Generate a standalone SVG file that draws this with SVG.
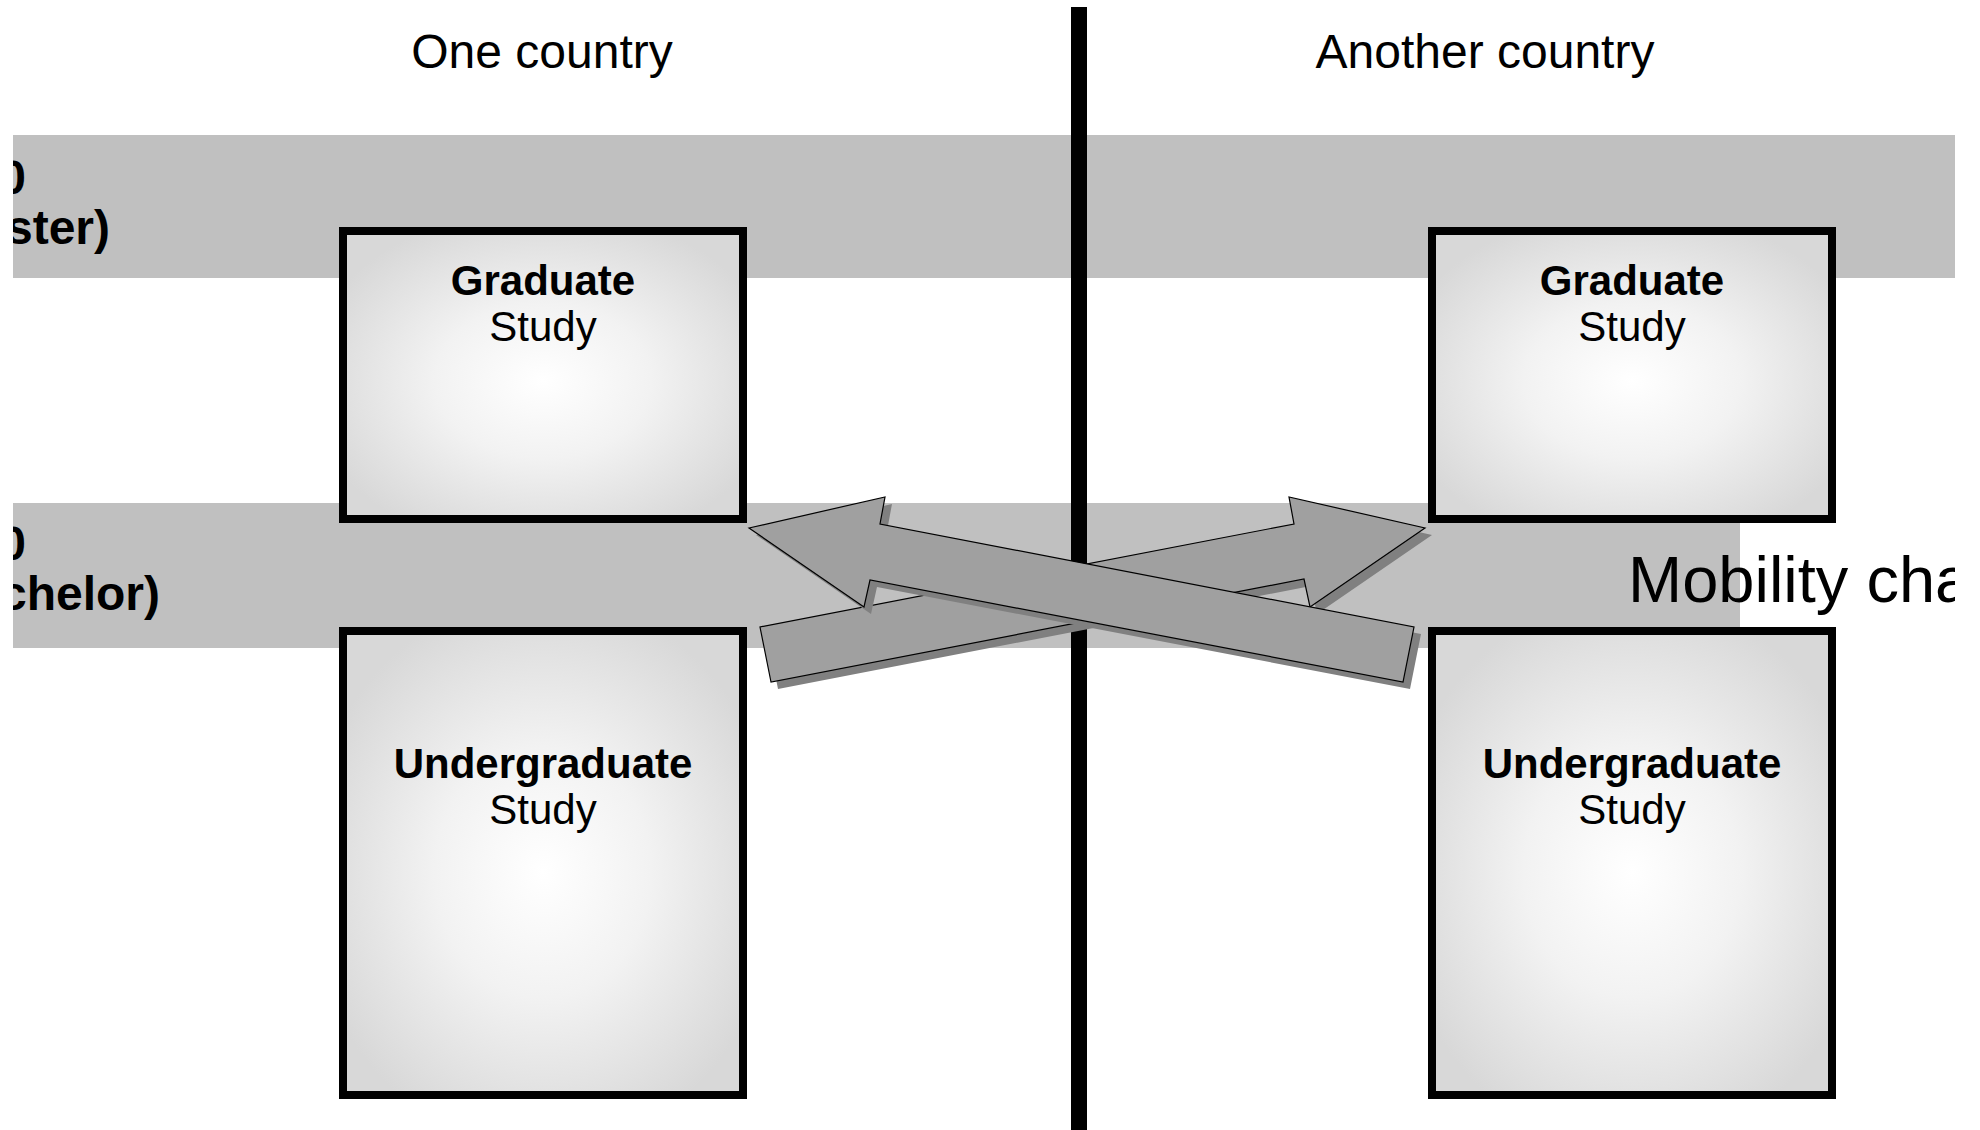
<svg xmlns="http://www.w3.org/2000/svg" width="1980" height="1130" viewBox="0 0 1980 1130">
  <style>
    .band { fill: #c0c0c0; }
    .box { stroke: #000; stroke-width: 8; fill: url(#boxGrad); }
    .t { font-family: "Liberation Sans", Arial, sans-serif; fill: #000; }
    .title { font-size: 48px; text-anchor: middle; }
    .b1 { font-size: 42px; font-weight: bold; text-anchor: middle; }
    .b2 { font-size: 42px; text-anchor: middle; }
    .side { font-size: 48px; font-weight: bold; text-anchor: end; }
    .arrow { fill: #a0a0a0; stroke: #000; stroke-width: 1.2; }
    .shadow { fill: #808080; }
  </style>
  <defs>
    <radialGradient id="boxGrad" cx="50%" cy="52%" r="60%">
      <stop offset="0" stop-color="#ffffff"/>
      <stop offset="0.45" stop-color="#f2f2f2"/>
      <stop offset="1" stop-color="#d8d8d8"/>
    </radialGradient>
    <clipPath id="page">
      <rect x="13" y="0" width="1942" height="1130"/>
    </clipPath>
  </defs>
  <rect x="0" y="0" width="1980" height="1130" fill="#fff"/>
  <g clip-path="url(#page)">
    <g id="bands">
      <rect class="band" x="13" y="135" width="1942" height="143"/>
      <rect class="band" x="13" y="503" width="1727" height="145"/>
    </g>
    <g id="side-labels">
      <text class="t side" x="26" y="194">0</text>
      <text class="t side" x="110" y="244">ster)</text>
      <text class="t side" x="26" y="560">0</text>
      <text class="t side" x="160" y="610">chelor)</text>
    </g>
    <g id="divider">
      <rect x="1071" y="7" width="16" height="1123" fill="#000"/>
    </g>
    <g id="titles">
      <text class="t title" x="542" y="68">One country</text>
      <text class="t title" x="1485" y="68">Another country</text>
    </g>
    <g id="grad-left">
      <rect class="box" x="343" y="231" width="400" height="288"/>
      <text class="t b1" x="543" y="295">Graduate</text>
      <text class="t b2" x="543" y="341">Study</text>
    </g>
    <g id="undergrad-left">
      <rect class="box" x="343" y="631" width="400" height="464"/>
      <text class="t b1" x="543" y="778">Undergraduate</text>
      <text class="t b2" x="543" y="824">Study</text>
    </g>
    <g id="grad-right">
      <rect class="box" x="1432" y="231" width="400" height="288"/>
      <text class="t b1" x="1632" y="295">Graduate</text>
      <text class="t b2" x="1632" y="341">Study</text>
    </g>
    <g id="undergrad-right">
      <rect class="box" x="1432" y="631" width="400" height="464"/>
      <text class="t b1" x="1632" y="778">Undergraduate</text>
      <text class="t b2" x="1632" y="824">Study</text>
    </g>
    <g id="connectors">
      <polygon class="shadow" transform="translate(7,7)" points="771,682 760,627 1294,524 1289,497 1425,528 1310,607 1304,579"/>
      <polygon class="arrow" points="771,682 760,627 1294,524 1289,497 1425,528 1310,607 1304,579"/>
      <polygon class="shadow" transform="translate(7,7)" points="749,528 885,497 880,524 1414,627 1403,682 870,580 864,607"/>
      <polygon class="arrow" points="749,528 885,497 880,524 1414,627 1403,682 870,580 864,607"/>
    </g>
    <g id="mobility-label">
      <text class="t" x="1628" y="602" font-size="65">Mobility cha</text>
    </g>
  </g>
</svg>
